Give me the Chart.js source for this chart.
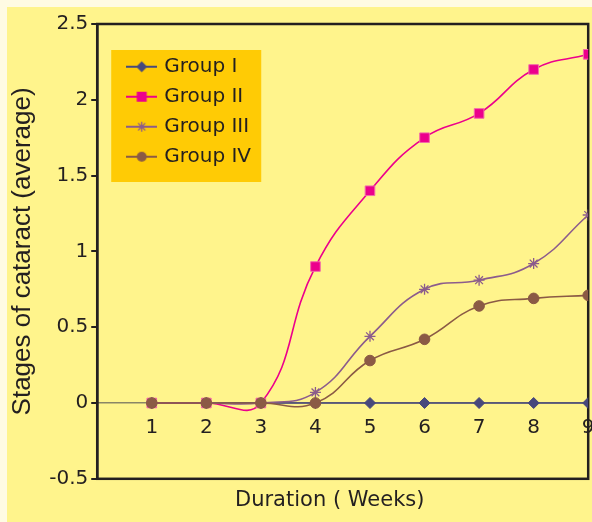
<!DOCTYPE html>
<html>
<head>
<meta charset="utf-8">
<script src="https://cdn.jsdelivr.net/npm/chart.js@4/dist/chart.umd.min.js"></script>
<style>
  html, body { margin: 0; padding: 0; background: #fffbe3; }
  #wrap { width: 592px; height: 522px; overflow: hidden; }
</style>
</head>
<body>
<div id="wrap"><canvas id="cataractChart" width="596" height="522"></canvas></div>
<script>
(function () {
  "use strict";

  // data
  const weeks = [1, 2, 3, 4, 5, 6, 7, 8, 9];
  const groupNames = ["Group I", "Group II", "Group III", "Group IV"];
  const group1 = [0, 0, 0, 0, 0, 0, 0, 0, 0];
  const group2 = [0, 0, 0, 0.9, 1.4, 1.75, 1.91, 2.2, 2.3];
  const group3 = [0, 0, 0, 0.07, 0.44, 0.75, 0.81, 0.92, 1.24];
  const group4 = [0, 0, 0, 0, 0.28, 0.42, 0.64, 0.69, 0.71];
  const yRange = [-0.5, 2.5];
  const xRange = [0, 9];

  const INK = "#231f20";
  const FONT = "'DejaVu Sans', sans-serif";

  function points(values) {
    return weeks.map((w, i) => ({ x: w, y: values[i] }));
  }

  // small line+marker picture for the legend
  function legendIcon(color, style) {
    const c = document.createElement("canvas");
    c.width = 31;
    c.height = 14;
    const g = c.getContext("2d");
    g.strokeStyle = color;
    g.fillStyle = color;
    g.lineWidth = 2;
    g.beginPath();
    g.moveTo(0, 7);
    g.lineTo(31, 7);
    g.stroke();
    const cx = 15.5, cy = 7;
    g.beginPath();
    if (style === "rectRot") {
      g.moveTo(cx, cy - 5.5); g.lineTo(cx + 5.5, cy); g.lineTo(cx, cy + 5.5); g.lineTo(cx - 5.5, cy);
      g.closePath(); g.fill();
    } else if (style === "rect") {
      g.fillRect(cx - 5, cy - 5, 10, 10);
    } else if (style === "star") {
      g.lineWidth = 1.3;
      g.moveTo(cx - 5, cy); g.lineTo(cx + 5, cy);
      g.moveTo(cx, cy - 5); g.lineTo(cx, cy + 5);
      g.moveTo(cx - 3.6, cy - 3.6); g.lineTo(cx + 3.6, cy + 3.6);
      g.moveTo(cx - 3.6, cy + 3.6); g.lineTo(cx + 3.6, cy - 3.6);
      g.stroke();
    } else {
      g.arc(cx, cy, 5, 0, Math.PI * 2);
      g.fill();
    }
    return c;
  }

  function series(label, values, color, style, radius, order, edge) {
    return {
      label,
      data: points(values),
      borderColor: color,
      backgroundColor: color,
      borderWidth: 1.6,
      pointStyle: style,
      pointRadius: radius,
      pointBackgroundColor: color,
      pointBorderColor: edge || color,
      pointBorderWidth: style === "star" ? 1.3 : 1,
      tension: 0.45,
      fill: false,
      order,
      icon: legendIcon(color, style)
    };
  }

  const datasets = [
    series(groupNames[0], group1, "#47487c", "rectRot", 5.5, 4),
    series(groupNames[1], group2, "#ec008c", "rect", 6.8, 3, "#f26aa8"),
    series(groupNames[2], group3, "#8c5c8c", "star", 5.5, 2),
    series(groupNames[3], group4, "#8b5a45", "circle", 5.3, 1)
  ];

  // backgrounds, legend panel, frame
  const decor = {
    id: "decor",
    beforeDraw(chart) {
      const { ctx, chartArea: a, legend } = chart;
      ctx.save();
      ctx.fillStyle = "#fffbe3";
      ctx.fillRect(0, 0, chart.width, chart.height);
      ctx.fillStyle = "#fff48c";
      ctx.fillRect(7, 7, chart.width, chart.height);
      const bx = a.left + 14, by = a.top + 26;
      ctx.fillStyle = "#ffcb05";
      ctx.fillRect(bx, by, 150, 132);
      ctx.restore();

      legend.left = bx + 8;
      legend.top = by - 3.3;
      legend.right = bx + 150;
      legend.bottom = by + 150;

      const t = chart.titleBlock;
      t.left = a.left - 13;
      t.right = a.right - 13;
    },
    beforeDatasetsDraw(chart) {
      const { ctx, chartArea: a } = chart;
      ctx.save();
      ctx.strokeStyle = INK;
      ctx.lineWidth = 2.5;
      ctx.strokeRect(a.left, a.top, a.right - a.left, a.bottom - a.top);
      ctx.restore();
    }
  };

  new Chart(document.getElementById("cataractChart"), {
    type: "line",
    data: { datasets },
    options: {
      responsive: false,
      animation: false,
      devicePixelRatio: 1,
      layout: { padding: { left: 3, top: 24, right: 0, bottom: 0 } },
      plugins: {
        tooltip: { enabled: false },
        legend: {
          position: "chartArea",
          align: "start",
          labels: {
            usePointStyle: true,
            pointStyleWidth: 25,
            padding: 10,
            color: INK,
            font: { family: FONT, size: 20 },
            generateLabels(chart) {
              return chart.data.datasets.map((ds, i) => ({
                text: ds.label,
                pointStyle: ds.icon,
                fillStyle: ds.borderColor,
                strokeStyle: ds.borderColor,
                lineWidth: 0,
                hidden: false,
                fontColor: INK,
                datasetIndex: i
              }));
            }
          }
        },
        title: {
          display: true,
          text: "Duration ( Weeks)",
          position: "bottom",
          fullSize: false,
          color: INK,
          font: { family: FONT, size: 21, weight: "normal" },
          padding: { top: 9, bottom: 9 }
        }
      },
      scales: {
        x: {
          type: "linear",
          min: xRange[0],
          max: xRange[1],
          position: { y: 0 },
          grid: { display: false, drawTicks: false },
          border: { display: true, color: "#8a8566", width: 1.5 },
          ticks: {
            stepSize: 1,
            padding: 13,
            autoSkip: false,
            maxRotation: 0,
            color: INK,
            font: { family: FONT, size: 20 },
            callback: (v) => (v === 0 ? "" : v)
          },
          afterFit(scale) {
            scale.paddingLeft = 0;
            scale.paddingRight = 0;
          }
        },
        y: {
          min: yRange[0],
          max: yRange[1],
          grid: { drawOnChartArea: false, tickLength: 6, color: INK, lineWidth: 2 },
          border: { color: INK, width: 2.5 },
          ticks: {
            stepSize: 0.5,
            padding: 3,
            color: INK,
            font: { family: FONT, size: 20 },
            callback: (v) => String(v)
          },
          title: {
            display: true,
            text: "Stages of cataract (average)",
            color: INK,
            font: { family: "'Liberation Sans', Arial, sans-serif", size: 26 },
            padding: { top: 4, bottom: 8 }
          }
        }
      }
    },
    plugins: [decor]
  });
})();
</script>
</body>
</html>
